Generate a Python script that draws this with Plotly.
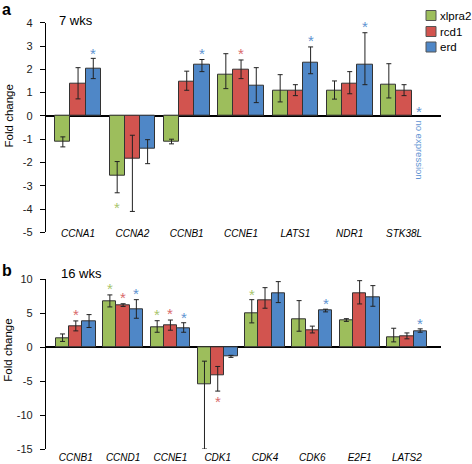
import plotly.graph_objects as go

# ---------------- data ----------------
series = ["xlpra2", "rcd1", "erd"]

cats_a = ["CCNA1", "CCNA2", "CCNB1", "CCNE1", "LATS1", "NDR1", "STK38L"]
vals_a_xlpra2 = [-1.1, -2.57, -1.1, 1.77, 1.07, 1.07, 1.35]
plus_a_xlpra2 = [0.2, 0.61, 0.1, 0.9, 0.7, 0.43, 0.89]
minus_a_xlpra2 = [0.23, 0.73, 0.1, 0.6, 0.47, 0.35, 0.58]
vals_a_rcd1 = [1.4, -1.85, 1.48, 2.0, 1.1, 1.4, 1.1]
plus_a_rcd1 = [0.67, 1.02, 0.44, 0.4, 0.24, 0.5, 0.24]
minus_a_rcd1 = [0.67, 2.25, 0.38, 0.4, 0.23, 0.45, 0.23]
vals_a_erd = [2.02, -1.42, 2.18, 1.28, 2.3, 2.2, None]
plus_a_erd = [0.45, 0.4, 0.24, 0.79, 0.66, 1.37, None]
minus_a_erd = [0.42, 0.63, 0.28, 0.71, 0.49, 0.86, None]
stars_a_xlpra2 = [None, -3.76, None, None, None, None, None]
stars_a_rcd1 = [None, None, None, 2.83, None, None, None]
stars_a_erd = [2.86, None, 2.85, None, 3.4, 3.99, 0.36]
ticks_a = [4, 3, 2, 1, 0, -1, -2, -3, -4, -5]

cats_b = ["CCNB1", "CCND1", "CCNE1", "CDK1", "CDK4", "CDK6", "E2F1", "LATS2"]
vals_b_xlpra2 = [1.32, 6.81, 2.99, -5.5, 5.0, 4.12, 4.02, 1.47]
plus_b_xlpra2 = [0.63, 0.89, 0.91, 3.44, 2.0, 2.74, 0.18, 1.32]
minus_b_xlpra2 = [0.47, 0.88, 0.79, 9.5, 1.42, 1.77, 0.22, 0.69]
vals_b_rcd1 = [3.09, 6.18, 3.24, -4.2, 6.96, 2.55, 7.99, 1.67]
plus_b_rcd1 = [0.78, 0.22, 0.76, 1.36, 1.81, 0.55, 1.81, 0.43]
minus_b_rcd1 = [0.69, 0.18, 0.74, 2.27, 1.22, 0.45, 1.62, 0.44]
vals_b_erd = [3.82, 5.59, 2.84, -1.37, 7.99, 5.39, 7.4, 2.4]
plus_b_erd = [0.98, 1.41, 0.76, 0.17, 1.67, 0.21, 1.67, 0.3]
minus_b_erd = [0.92, 1.33, 0.64, 0.13, 1.42, 0.19, 1.37, 0.2]
stars_b_xlpra2 = [None, 9.17, 5.4, None, 8.33, None, None, None]
stars_b_rcd1 = [5.44, 7.9, 5.5, -7.4, 10.1, None, 11.18, None]
stars_b_erd = [None, 8.43, 4.9, None, 10.98, 7.0, None, 4.07]
ticks_b = [10, 5, 0, -5, -10, -15]

# ---------------- style ----------------
W, H = 472, 464
ML, MR = 46, 31
bar_colors = ["#9dbe5c", "#d2544f", "#4f87c7"]
star_colors = ["#a9c56c", "#d96a6a", "#5e93d2"]
BW = 0.28
offsets = [-BW, 0.0, BW]
FONT = "Liberation Sans, Arial, sans-serif"

def py(p):  # pixel y -> paper y
    return 1 - p / H

def px(p):  # pixel x -> paper x
    return (p - ML) / (W - ML - MR)

fig = go.Figure()

panels = [
    dict(cats=cats_a, xa="x", ya="y",
         vals=[vals_a_xlpra2, vals_a_rcd1, vals_a_erd],
         plus=[plus_a_xlpra2, plus_a_rcd1, plus_a_erd],
         minus=[minus_a_xlpra2, minus_a_rcd1, minus_a_erd],
         stars=[stars_a_xlpra2, stars_a_rcd1, stars_a_erd]),
    dict(cats=cats_b, xa="x2", ya="y2",
         vals=[vals_b_xlpra2, vals_b_rcd1, vals_b_erd],
         plus=[plus_b_xlpra2, plus_b_rcd1, plus_b_erd],
         minus=[minus_b_xlpra2, minus_b_rcd1, minus_b_erd],
         stars=[stars_b_xlpra2, stars_b_rcd1, stars_b_erd]),
]

annotations = []
shapes = []
for pi, p in enumerate(panels):
    n = len(p["cats"])
    for si, name in enumerate(series):
        xs = [i + offsets[si] for i in range(n)]
        fig.add_trace(go.Bar(
            x=xs, y=p["vals"][si], width=BW, name=name,
            xaxis=p["xa"], yaxis=p["ya"], showlegend=False,
            marker=dict(color=bar_colors[si], line=dict(color="#333333", width=1)),
            error_y=dict(type="data", symmetric=False,
                         array=p["plus"][si], arrayminus=p["minus"][si],
                         color="#222222", thickness=1, width=2.5),
        ))
        for i, sv in enumerate(p["stars"][si]):
            if sv is None:
                continue
            annotations.append(dict(
                x=xs[i], y=sv, xref=p["xa"], yref=p["ya"], text="*",
                showarrow=False, yshift=-4,
                font=dict(family=FONT, size=15, color=star_colors[si])))

# manual legend (square + label)
leg_y = [15.5, 31.5, 47]
for si, name in enumerate(series):
    shapes.append(dict(type="rect", xref="paper", yref="paper",
                       x0=px(426), x1=px(436), y0=py(leg_y[si] + 5), y1=py(leg_y[si] - 5),
                       fillcolor=bar_colors[si], line=dict(color="#555", width=1)))
    annotations.append(dict(x=px(438), y=py(leg_y[si]), xref="paper", yref="paper",
                            text=name, xanchor="left", yanchor="middle", showarrow=False,
                            font=dict(family=FONT, size=11.5, color="black")))

# text annotations
annotations += [
    dict(x=px(0), y=py(-1), xref="paper", yref="paper", text="<b>a</b>",
         xanchor="left", yanchor="top", showarrow=False,
         font=dict(family=FONT, size=16, color="black")),
    dict(x=px(0), y=py(260), xref="paper", yref="paper", text="<b>b</b>",
         xanchor="left", yanchor="top", showarrow=False,
         font=dict(family=FONT, size=16, color="black")),
    dict(x=px(57), y=py(20), xref="paper", yref="paper", text="7 wks",
         xanchor="left", yanchor="middle", showarrow=False,
         font=dict(family=FONT, size=13, color="black")),
    dict(x=px(59), y=py(273), xref="paper", yref="paper", text="16 wks",
         xanchor="left", yanchor="middle", showarrow=False,
         font=dict(family=FONT, size=13, color="black")),
    dict(x=px(8.5), y=0, xref="paper", yref="y", text="Fold change",
         textangle=-90, showarrow=False, xanchor="center", yanchor="middle",
         font=dict(family=FONT, size=11.5, color="black")),
    dict(x=px(8.5), y=0, xref="paper", yref="y2", text="Fold change",
         textangle=-90, showarrow=False, xanchor="center", yanchor="middle", yshift=-3,
         font=dict(family=FONT, size=11.5, color="black")),
    dict(x=len(cats_a) - 1 + offsets[2], y=-1.45, xref="x", yref="y",
         text="no expression", textangle=90, showarrow=False,
         font=dict(family=FONT, size=9.5, color="#5e93d2")),
]

yax_common = dict(showline=True, linecolor="black", linewidth=1.3,
                  ticks="outside", ticklen=5, tickcolor="black", tickwidth=1.3,
                  showgrid=False, zeroline=True, zerolinecolor="black",
                  zerolinewidth=1.5, tickfont=dict(family=FONT, size=11, color="#222"),
                  automargin=False, ticklabelstandoff=5)
xax_common = dict(showline=False, showgrid=False, zeroline=False, ticks="",
                  automargin=False,
                  tickfont=dict(family=FONT, size=10, color="black", style="italic"))

fig.update_layout(
    width=W, height=H,
    margin=dict(l=ML, r=MR, t=0, b=0, pad=0),
    paper_bgcolor="white", plot_bgcolor="white",
    barmode="overlay", bargap=0,
    showlegend=False,
    xaxis=dict(xax_common, range=[-0.59, len(cats_a) - 1 + 0.68],
               tickvals=list(range(len(cats_a))), ticktext=cats_a,
               anchor="free", position=py(226)),
    yaxis=dict(yax_common, range=[-5, 4], tickvals=ticks_a,
               ticktext=[str(t) for t in ticks_a],
               domain=[py(232.4), py(22.7)], anchor="x"),
    xaxis2=dict(xax_common, range=[-0.63, len(cats_b) - 1 + 0.72],
                tickvals=list(range(len(cats_b))), ticktext=cats_b,
                anchor="free", position=py(450)),
    yaxis2=dict(yax_common, range=[-15, 10], tickvals=ticks_b,
                ticktext=[str(t) for t in ticks_b],
                domain=[py(449), py(279.3)], anchor="x2"),
    annotations=annotations,
    shapes=shapes,
)

fig.write_html("out.html", config={"displayModeBar": False},
               post_script="document.body.style.margin='0px';")
